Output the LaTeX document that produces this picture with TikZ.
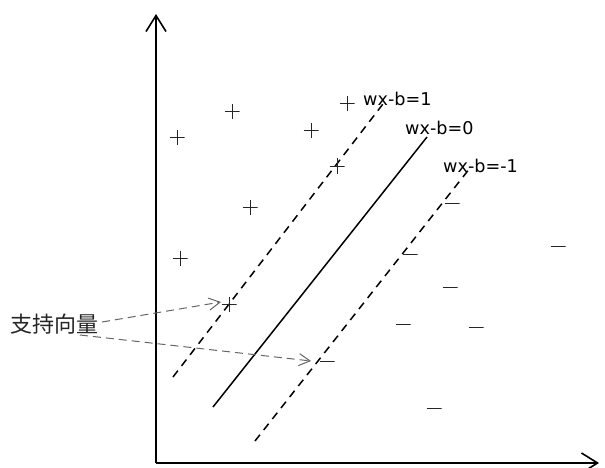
\documentclass[tikz,border=0pt]{standalone}
\usepackage{fontspec}
\setmainfont{DejaVu Sans}
\newfontfamily\cjk{Noto Sans CJK SC}
\usetikzlibrary{arrows.meta}
\begin{document}
\begin{tikzpicture}[x=1pt,y=-1pt,
  axis/.style={line width=2pt,-{Straight Barb[length=16pt,width=20pt,line width=1.6pt]}},
  sep/.style={line width=1.5pt},
  margin/.style={line width=1.5pt,dash pattern=on 8pt off 6pt},
  pospt/.style={minimum size=15pt,inner sep=0pt,
    path picture={\draw[line width=1pt,black!85] (path picture bounding box.west)--(path picture bounding box.east)
      (path picture bounding box.north)--(path picture bounding box.south);}},
  negpt/.style={minimum width=15pt,minimum height=3pt,inner sep=0pt,
    path picture={\draw[line width=1pt,black!85] (path picture bounding box.west)--(path picture bounding box.east);}},
  lab/.style={font=\fontsize{17.6}{20}\selectfont,inner sep=0pt,anchor=base west},
  pointer/.style={gray!80!black,line width=1pt,dash pattern=on 8pt off 5pt,
    -{Straight Barb[length=11pt,width=12pt,line width=1pt]}}]
\useasboundingbox (0,0) rectangle (605,468);
% axes
\coordinate (O) at (156,463);
\coordinate (Ytop) at (156,14);
\coordinate (Xend) at (599,463);
\draw[axis] (O) -- (Ytop);
\draw[axis] (O) -- (Xend);
% hyperplanes
\coordinate (a1) at (173,377); \coordinate (b1) at (386,100);
\coordinate (a0) at (213,407); \coordinate (b0) at (427,137);
\coordinate (am) at (255,441); \coordinate (bm) at (470,168);
\draw[margin] (a1) -- (b1);
\draw[sep] (a0) -- (b0);
\draw[margin] (am) -- (bm);
% labels
\node[lab] (l1) at (363,106) {wx-b=1};
\node[lab] (l0) at (405,135) {wx-b=0};
\node[lab] (lm) at (443,172) {wx-b=-1};
% positive points
\node[pospt] (p1) at (177,138) {};
\node[pospt] (p2) at (232,112) {};
\node[pospt] (p3) at (311,131) {};
\node[pospt] (p4) at (347,104) {};
\node[pospt] (p5) at (337,166) {};
\node[pospt] (p6) at (250,207) {};
\node[pospt] (p7) at (180,258) {};
\node[pospt] (p8) at (229,304) {};
% negative points
\node[negpt] (n1) at (452,203) {};
\node[negpt] (n2) at (558,246) {};
\node[negpt] (n3) at (410,254) {};
\node[negpt] (n4) at (450,287) {};
\node[negpt] (n5) at (403,324) {};
\node[negpt] (n6) at (476,327) {};
\node[negpt] (n7) at (327,361) {};
\node[negpt] (n8) at (434,408) {};
% support vector label
\node[font=\cjk\fontsize{22}{24}\selectfont,inner sep=0pt,anchor=west,black!85] (sv) at (10,324) {支持向量};
\coordinate (s1) at (102,322);
\coordinate (s2) at (80,335);
\draw[pointer] (s1) -- ([xshift=-8pt,yshift=2pt]p8.center);
\draw[pointer] (s2) -- ([xshift=-16pt]n7.center);
\end{tikzpicture}
\end{document}
